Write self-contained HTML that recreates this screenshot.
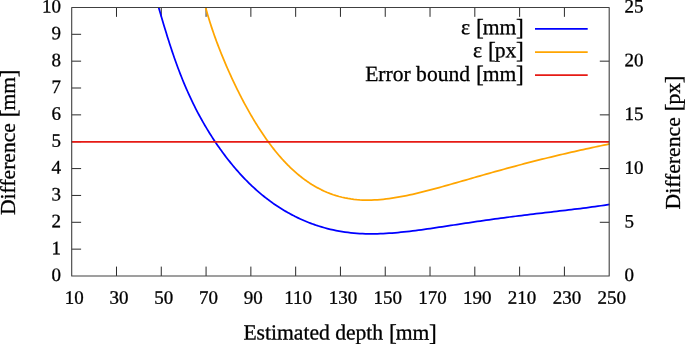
<!DOCTYPE html>
<html><head><meta charset="utf-8"><title>Plot</title><style>html,body{margin:0;padding:0;background:#fff}</style></head><body>
<svg width="685" height="344" viewBox="0 0 685 344" style="display:block">
<rect width="685" height="344" fill="#fff"/>
<path d="M116.49,276.0 v-9.4 M116.49,7.45 v9.4 M161.28,276.0 v-9.4 M161.28,7.45 v9.4 M206.07,276.0 v-9.4 M206.07,7.45 v9.4 M250.87,276.0 v-9.4 M250.87,7.45 v9.4 M295.66,276.0 v-9.4 M295.66,7.45 v9.4 M340.45,276.0 v-9.4 M340.45,7.45 v9.4 M385.24,276.0 v-9.4 M385.24,7.45 v9.4 M430.03,276.0 v-9.4 M430.03,7.45 v9.4 M474.82,276.0 v-9.4 M474.82,7.45 v9.4 M519.62,276.0 v-9.4 M519.62,7.45 v9.4 M564.41,276.0 v-9.4 M564.41,7.45 v9.4 M71.7,249.15 h9.4 M71.7,222.29 h9.4 M71.7,195.44 h9.4 M71.7,168.58 h9.4 M71.7,141.72 h9.4 M71.7,114.87 h9.4 M71.7,88.01 h9.4 M71.7,61.16 h9.4 M71.7,34.30 h9.4 M609.2,222.29 h-9.4 M609.2,168.58 h-9.4 M609.2,114.87 h-9.4 M609.2,61.16 h-9.4" stroke="#2a2a2a" stroke-width="1" fill="none"/>
<g transform="matrix(1 0.0005 0 1 0 0)" fill="#000" stroke="#000" stroke-width="0.3" font-family="'Liberation Serif', 'Times New Roman', serif">
<g font-size="19">
<text x="60.95" y="280.97" text-anchor="end">0</text>
<text x="60.95" y="254.11" text-anchor="end">1</text>
<text x="60.95" y="227.26" text-anchor="end">2</text>
<text x="60.95" y="200.40" text-anchor="end">3</text>
<text x="60.95" y="173.55" text-anchor="end">4</text>
<text x="60.95" y="146.69" text-anchor="end">5</text>
<text x="60.95" y="119.84" text-anchor="end">6</text>
<text x="60.95" y="92.98" text-anchor="end">7</text>
<text x="60.95" y="66.13" text-anchor="end">8</text>
<text x="60.95" y="39.27" text-anchor="end">9</text>
<text x="60.95" y="12.42" text-anchor="end">10</text>
<text x="624.60" y="280.79">0</text>
<text x="624.60" y="227.08">5</text>
<text x="624.60" y="173.37">10</text>
<text x="624.60" y="119.66">15</text>
<text x="624.60" y="65.95">20</text>
<text x="624.60" y="12.24">25</text>
<text x="74.20" y="303.76" text-anchor="middle">10</text>
<text x="118.99" y="303.74" text-anchor="middle">30</text>
<text x="163.78" y="303.72" text-anchor="middle">50</text>
<text x="208.57" y="303.70" text-anchor="middle">70</text>
<text x="253.37" y="303.67" text-anchor="middle">90</text>
<text x="298.16" y="303.65" text-anchor="middle">110</text>
<text x="342.95" y="303.63" text-anchor="middle">130</text>
<text x="387.74" y="303.61" text-anchor="middle">150</text>
<text x="432.53" y="303.58" text-anchor="middle">170</text>
<text x="477.32" y="303.56" text-anchor="middle">190</text>
<text x="522.12" y="303.54" text-anchor="middle">210</text>
<text x="566.91" y="303.52" text-anchor="middle">230</text>
<text x="611.70" y="303.49" text-anchor="middle">250</text>
</g>
<g font-size="21.6">
<text x="340.10" y="339.43" text-anchor="middle">Estimated depth <tspan font-size="23.4" dx="0.45" dy="1.0">[</tspan><tspan dx="-1.05" dy="-1.0">mm</tspan><tspan font-size="23.4" dx="-0.40" dy="1.0">]</tspan></text>
<text x="523.70" y="34.04" text-anchor="end">ε <tspan font-size="23.4" dx="0.45" dy="1.0">[</tspan><tspan dx="-1.05" dy="-1.0">mm</tspan><tspan font-size="23.4" dx="-0.40" dy="1.0">]</tspan></text>
<text x="523.70" y="56.94" text-anchor="end">ε <tspan font-size="23.4" dx="0.45" dy="1.0">[</tspan><tspan dx="-1.05" dy="-1.0">px</tspan><tspan font-size="23.4" dx="-0.40" dy="1.0">]</tspan></text>
<text x="523.70" y="80.84" text-anchor="end">Error bound <tspan font-size="23.4" dx="0.45" dy="1.0">[</tspan><tspan dx="-1.05" dy="-1.0">mm</tspan><tspan font-size="23.4" dx="-0.40" dy="1.0">]</tspan></text>
</g>
</g>
<g font-size="21.6" fill="#000" stroke="#000" stroke-width="0.3" font-family="'Liberation Serif', 'Times New Roman', serif">
<text transform="translate(15.0,142.25) rotate(-90)" text-anchor="middle">Difference <tspan font-size="23.4" dx="0.45" dy="1.0">[</tspan><tspan dx="-1.05" dy="-1.0">mm</tspan><tspan font-size="23.4" dx="-0.40" dy="1.0">]</tspan></text>
<text transform="translate(680.4,142.5) rotate(-90)" text-anchor="middle" font-size="21.7">Difference <tspan font-size="23.4" dx="0.45" dy="1.0">[</tspan><tspan dx="-1.05" dy="-1.0">px</tspan><tspan font-size="23.4" dx="-0.40" dy="1.0">]</tspan></text>
</g>
<clipPath id="pc"><rect x="71.7" y="6.95" width="538.10" height="269.05"/></clipPath>
<g fill="none" stroke-width="1.75" stroke-linejoin="round">
<g clip-path="url(#pc)"><g transform="translate(0.4,0.5)">
<path d="M155.34,-3.05 L156.51,0.94 L157.68,4.99 L158.85,9.05 L160.02,13.03 L161.19,17.01 L162.37,20.97 L163.54,24.89 L164.71,28.78 L165.88,32.61 L167.05,36.39 L168.22,40.11 L169.39,43.76 L170.56,47.35 L171.73,50.87 L172.90,54.32 L174.07,57.70 L175.25,61.01 L176.42,64.26 L177.59,67.43 L178.76,70.54 L179.93,73.58 L181.10,76.55 L182.27,79.46 L183.44,82.31 L184.61,85.10 L185.78,87.83 L186.96,90.50 L188.13,93.12 L189.30,95.69 L190.47,98.20 L191.64,100.67 L192.81,103.08 L193.98,105.45 L195.15,107.78 L196.32,110.06 L197.49,112.30 L198.66,114.50 L199.84,116.66 L201.01,118.78 L202.18,120.87 L203.35,122.92 L204.52,124.94 L205.69,126.92 L206.86,128.87 L208.03,130.79 L209.20,132.69 L210.37,134.55 L211.54,136.38 L212.72,138.19 L213.89,139.97 L215.06,141.72 L216.23,143.45 L217.40,145.15 L218.57,146.83 L219.74,148.48 L220.91,150.11 L222.08,151.72 L223.25,153.31 L224.43,154.87 L225.60,156.41 L226.77,157.93 L227.94,159.43 L229.11,160.91 L230.28,162.36 L231.45,163.80 L232.62,165.22 L233.79,166.61 L234.96,167.99 L236.13,169.35 L237.31,170.68 L238.48,172.00 L239.65,173.30 L240.82,174.58 L241.99,175.84 L243.16,177.08 L244.33,178.30 L245.50,179.50 L246.67,180.69 L247.84,181.86 L249.01,183.01 L250.19,184.14 L251.36,185.26 L252.53,186.36 L253.70,187.44 L254.87,188.51 L256.04,189.55 L257.21,190.59 L258.38,191.60 L259.55,192.60 L260.72,193.59 L261.90,194.56 L263.07,195.51 L264.24,196.45 L265.41,197.37 L266.58,198.28 L267.75,199.17 L268.92,200.05 L270.09,200.91 L271.26,201.76 L272.43,202.60 L273.60,203.42 L274.78,204.22 L275.95,205.01 L277.12,205.79 L278.29,206.56 L279.46,207.31 L280.63,208.05 L281.80,208.77 L282.97,209.49 L284.14,210.19 L285.31,210.87 L286.48,211.55 L287.66,212.21 L288.83,212.86 L290.00,213.50 L291.17,214.13 L292.34,214.74 L293.51,215.34 L294.68,215.94 L295.85,216.52 L297.02,217.09 L298.19,217.65 L299.37,218.19 L300.54,218.73 L301.71,219.26 L302.88,219.77 L304.05,220.28 L305.22,220.77 L306.39,221.25 L307.56,221.73 L308.73,222.19 L309.90,222.64 L311.07,223.08 L312.25,223.51 L313.42,223.94 L314.59,224.35 L315.76,224.75 L316.93,225.14 L318.10,225.52 L321.04,226.43 L323.98,227.28 L326.92,228.07 L329.87,228.80 L332.81,229.47 L335.75,230.08 L338.69,230.64 L341.63,231.14 L344.57,231.58 L347.51,231.98 L350.46,232.32 L353.40,232.60 L356.34,232.84 L359.28,233.03 L362.22,233.18 L365.16,233.28 L368.10,233.34 L371.05,233.36 L373.99,233.34 L376.93,233.28 L379.87,233.19 L382.81,233.07 L385.75,232.91 L388.69,232.73 L391.64,232.52 L394.58,232.29 L397.52,232.03 L400.46,231.74 L403.40,231.44 L406.34,231.12 L409.28,230.78 L412.23,230.43 L415.17,230.06 L418.11,229.67 L421.05,229.28 L423.99,228.87 L426.93,228.46 L429.87,228.03 L432.82,227.61 L435.76,227.17 L438.70,226.73 L441.64,226.29 L444.58,225.84 L447.52,225.40 L450.46,224.95 L453.41,224.50 L456.35,224.06 L459.29,223.61 L462.23,223.16 L465.17,222.72 L468.11,222.28 L471.05,221.84 L473.99,221.41 L476.94,220.98 L479.88,220.55 L482.82,220.12 L485.76,219.70 L488.70,219.29 L491.64,218.87 L494.58,218.47 L497.53,218.07 L500.47,217.67 L503.41,217.27 L506.35,216.89 L509.29,216.50 L512.23,216.12 L515.17,215.75 L518.12,215.38 L521.06,215.01 L524.00,214.65 L526.94,214.29 L529.88,213.93 L532.82,213.58 L535.76,213.23 L538.71,212.88 L541.65,212.53 L544.59,212.19 L547.53,211.85 L550.47,211.51 L553.41,211.16 L556.35,210.82 L559.30,210.48 L562.24,210.13 L565.18,209.79 L568.12,209.44 L571.06,209.09 L574.00,208.73 L576.94,208.37 L579.89,208.01 L582.83,207.64 L585.77,207.26 L588.71,206.88 L591.65,206.48 L594.59,206.08 L597.53,205.67 L600.48,205.25 L603.42,204.81 L606.36,204.37 L609.30,203.92" stroke="#0000ff"/>
<path d="M201.94,-6.49 L202.78,-2.87 L203.61,0.61 L204.45,3.98 L205.28,7.24 L206.12,10.24 L206.95,13.16 L207.79,15.99 L208.63,18.75 L209.46,21.44 L210.30,24.06 L211.13,26.62 L211.97,29.13 L212.80,31.58 L213.64,33.99 L214.48,36.35 L215.31,38.66 L216.15,40.94 L216.98,43.17 L217.82,45.37 L218.65,47.54 L219.49,49.68 L220.33,51.79 L221.16,53.86 L222.00,55.91 L222.83,57.94 L223.67,59.94 L224.50,61.92 L225.34,63.88 L226.17,65.81 L227.01,67.73 L227.85,69.62 L228.68,71.50 L229.52,73.35 L230.35,75.19 L231.19,77.01 L232.02,78.82 L232.86,80.60 L233.70,82.37 L234.53,84.12 L235.37,85.86 L236.20,87.58 L237.04,89.28 L237.87,90.97 L238.71,92.64 L239.55,94.29 L240.38,95.92 L241.22,97.54 L242.05,99.15 L242.89,100.73 L243.72,102.31 L244.56,103.86 L245.40,105.40 L246.23,106.93 L247.07,108.43 L247.90,109.93 L248.74,111.41 L249.57,112.87 L250.41,114.32 L251.25,115.76 L252.08,117.18 L252.92,118.58 L253.75,119.98 L254.59,121.35 L255.42,122.71 L256.26,124.06 L257.10,125.40 L257.93,126.72 L258.77,128.02 L259.60,129.31 L260.44,130.59 L261.27,131.85 L262.11,133.10 L262.94,134.34 L263.78,135.56 L264.62,136.77 L265.45,137.96 L266.29,139.14 L267.12,140.31 L267.96,141.46 L268.79,142.60 L269.63,143.72 L270.47,144.83 L271.30,145.93 L272.14,147.02 L272.97,148.09 L273.81,149.14 L274.64,150.19 L275.48,151.22 L276.32,152.23 L277.15,153.24 L277.99,154.23 L278.82,155.21 L279.66,156.17 L280.49,157.12 L281.33,158.06 L282.17,158.99 L283.00,159.90 L283.84,160.80 L284.67,161.69 L285.51,162.57 L286.34,163.43 L287.18,164.28 L288.02,165.12 L288.85,165.95 L289.69,166.76 L290.52,167.56 L291.36,168.35 L292.19,169.13 L293.03,169.90 L293.87,170.66 L294.70,171.40 L295.54,172.13 L296.37,172.86 L297.21,173.57 L298.04,174.26 L298.88,174.95 L299.71,175.63 L300.55,176.30 L301.39,176.95 L302.22,177.59 L303.06,178.23 L303.89,178.85 L304.73,179.46 L305.56,180.06 L306.40,180.65 L307.24,181.23 L308.07,181.80 L308.91,182.36 L309.74,182.91 L310.58,183.45 L311.41,183.98 L312.25,184.49 L313.09,185.00 L313.92,185.50 L314.76,185.99 L315.59,186.46 L316.43,186.93 L317.26,187.39 L318.10,187.84 L321.04,189.34 L323.98,190.72 L326.92,191.99 L329.87,193.15 L332.81,194.21 L335.75,195.16 L338.69,196.00 L341.63,196.76 L344.57,197.41 L347.51,197.98 L350.46,198.45 L353.40,198.84 L356.34,199.15 L359.28,199.38 L362.22,199.53 L365.16,199.61 L368.10,199.63 L371.05,199.58 L373.99,199.47 L376.93,199.30 L379.87,199.07 L382.81,198.80 L385.75,198.47 L388.69,198.10 L391.64,197.68 L394.58,197.23 L397.52,196.73 L400.46,196.20 L403.40,195.64 L406.34,195.05 L409.28,194.42 L412.23,193.78 L415.17,193.10 L418.11,192.41 L421.05,191.69 L423.99,190.95 L426.93,190.20 L429.87,189.44 L432.82,188.66 L435.76,187.86 L438.70,187.06 L441.64,186.25 L444.58,185.43 L447.52,184.60 L450.46,183.77 L453.41,182.94 L456.35,182.10 L459.29,181.26 L462.23,180.41 L465.17,179.57 L468.11,178.72 L471.05,177.88 L473.99,177.03 L476.94,176.19 L479.88,175.35 L482.82,174.51 L485.76,173.67 L488.70,172.84 L491.64,172.01 L494.58,171.18 L497.53,170.36 L500.47,169.55 L503.41,168.73 L506.35,167.93 L509.29,167.13 L512.23,166.33 L515.17,165.54 L518.12,164.76 L521.06,163.98 L524.00,163.21 L526.94,162.44 L529.88,161.68 L532.82,160.93 L535.76,160.18 L538.71,159.44 L541.65,158.70 L544.59,157.98 L547.53,157.26 L550.47,156.54 L553.41,155.83 L556.35,155.13 L559.30,154.43 L562.24,153.74 L565.18,153.06 L568.12,152.38 L571.06,151.70 L574.00,151.04 L576.94,150.38 L579.89,149.72 L582.83,149.07 L585.77,148.42 L588.71,147.78 L591.65,147.14 L594.59,146.51 L597.53,145.89 L600.48,145.26 L603.42,144.64 L606.36,144.03 L609.30,143.43" stroke="#ffa500"/>
</g></g>
<path d="M71.7,141.75 H609.2" stroke="#e61a14"/>
<path d="M535,28.8 H587.7" stroke="#0000ff"/>
<path d="M535,52 H587.7" stroke="#ffa500"/>
<path d="M535,75.1 H587.7" stroke="#e61a14"/>
</g>
<path d="M71.7,7.45 H609.2 V276.0 H71.7 Z" stroke="#404040" stroke-width="1.1" stroke-linejoin="round" fill="none"/>
</svg>
</body></html>
